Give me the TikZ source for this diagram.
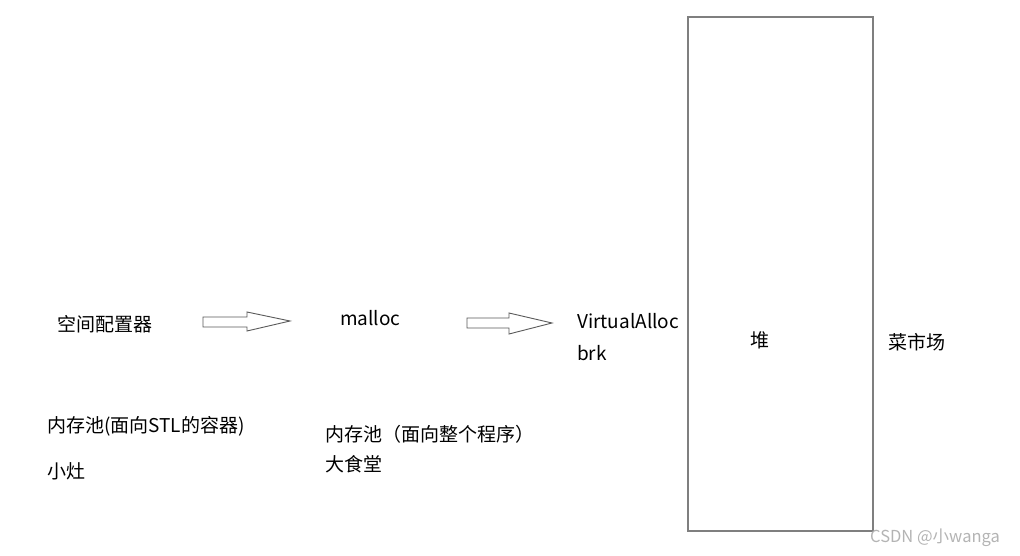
\documentclass[tikz,border=0pt]{standalone}
\usepackage{fontspec}
\setmainfont{Noto Sans CJK SC}
\usetikzlibrary{positioning}
\definecolor{boxgray}{HTML}{7F7F7F}
\definecolor{arrowgray}{HTML}{5A5A5A}
\definecolor{markgray}{HTML}{B4B4B4}
\tikzset{
  lbl/.style       = {anchor=west, inner sep=0pt, font=\fontsize{19}{23}\selectfont},
  hollowarrow/.style = {draw=arrowgray, fill=white, line width=0.9pt, line join=miter},
  heapbox/.style   = {draw=boxgray, line width=1.4pt},
}
\begin{document}
\begin{tikzpicture}[x=1pt,y=-1pt]
\useasboundingbox[fill=white] (0,0) rectangle (1020,556);
% heap box
\draw[heapbox] (688,17) rectangle (873,531);
\node[lbl,anchor=center] (heap) at (760,340) {堆};
\node[lbl] (market) at (888,342) {菜市场};
% upper row
\node[lbl] (alloc) at (57,324) {空间配置器};
\node[lbl] (malloc) at (340,318) {malloc};
\node[lbl] (valloc) at (577,321) {VirtualAlloc};
\node[lbl] (brk) at (577,353) {brk};
% hollow arrows
\draw[hollowarrow] (203,317) -- (247,317) -- (247,312) -- (290,321)
  -- (247,331) -- (247,327) -- (203,327) -- cycle;
\draw[hollowarrow] (467,318) -- (509,318) -- (509,313) -- (552,323)
  -- (509,334) -- (509,328) -- (467,328) -- cycle;
% lower notes
\node[lbl] (pool1) at (47,426) {内存池(面向STL的容器)};
\node[lbl] (small) at (47,471) {小灶};
\node[lbl] (pool2) at (325,434) {内存池（面向整个程序）};
\node[lbl] (canteen) at (325,464) {大食堂};
% watermark
\node[anchor=west,inner sep=0pt,text=markgray,font=\fontsize{16.5}{19}\selectfont] (mark) at (870,538) {CSDN @小wanga};
\end{tikzpicture}
\end{document}
